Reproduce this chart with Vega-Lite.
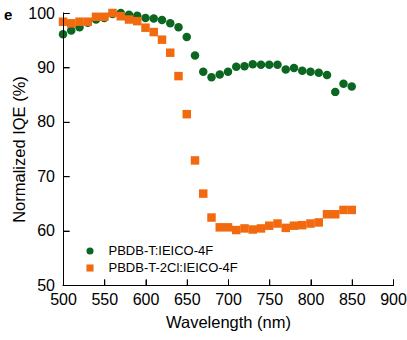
{
  "$schema": "https://vega.github.io/schema/vega-lite/v6.json",
  "autosize": {"type": "fit", "contains": "padding"},
  "padding": {"left": 4, "top": 5, "right": 0, "bottom": 9},
  "width": 407,
  "height": 340,
  "title": {"text": "e", "anchor": "start", "frame": "group", "dx": -59, "offset": -12, "dy": 18, "baseline": "alphabetic", "fontSize": 15, "fontWeight": "bold", "font": "Liberation Sans", "color": "#000"},
  "config": {
    "view": {"stroke": null},
    "font": "Liberation Sans",
    "axis": {
      "grid": false,
      "domain": true,
      "ticks": true,
      "domainColor": "#000",
      "domainOpacity": 1,
      "domainWidth": 1,
      "tickColor": "#000",
      "tickOpacity": 1,
      "tickWidth": 1,
      "labelColor": "#000",
      "titleColor": "#000",
      "labelFontSize": 16,
      "titleFontSize": 16.5,
      "titleFontWeight": "normal",
      "tickSize": -6,
      "labelFlush": false,
      "labelOverlap": false,
      "labelFont": "Liberation Sans",
      "titleFont": "Liberation Sans"
    }
  },
  "datasets": {
    "xt": [{"t": 500}, {"t": 550}, {"t": 600}, {"t": 650}, {"t": 700}, {"t": 750}, {"t": 800}, {"t": 850}, {"t": 900}],
    "yt": [{"t": 50}, {"t": 60}, {"t": 70}, {"t": 80}, {"t": 90}, {"t": 100}],
    "iqe": [
      {"wl": 500, "v": 96.1, "s": "PBDB-T:IEICO-4F"},
      {"wl": 510, "v": 96.8, "s": "PBDB-T:IEICO-4F"},
      {"wl": 520, "v": 97.4, "s": "PBDB-T:IEICO-4F"},
      {"wl": 530, "v": 98.2, "s": "PBDB-T:IEICO-4F"},
      {"wl": 540, "v": 98.8, "s": "PBDB-T:IEICO-4F"},
      {"wl": 550, "v": 99.1, "s": "PBDB-T:IEICO-4F"},
      {"wl": 560, "v": 99.8, "s": "PBDB-T:IEICO-4F"},
      {"wl": 570, "v": 100.0, "s": "PBDB-T:IEICO-4F"},
      {"wl": 580, "v": 99.7, "s": "PBDB-T:IEICO-4F"},
      {"wl": 590, "v": 99.5, "s": "PBDB-T:IEICO-4F"},
      {"wl": 600, "v": 99.1, "s": "PBDB-T:IEICO-4F"},
      {"wl": 610, "v": 99.0, "s": "PBDB-T:IEICO-4F"},
      {"wl": 620, "v": 98.7, "s": "PBDB-T:IEICO-4F"},
      {"wl": 630, "v": 98.1, "s": "PBDB-T:IEICO-4F"},
      {"wl": 640, "v": 97.4, "s": "PBDB-T:IEICO-4F"},
      {"wl": 650, "v": 95.6, "s": "PBDB-T:IEICO-4F"},
      {"wl": 660, "v": 92.2, "s": "PBDB-T:IEICO-4F"},
      {"wl": 670, "v": 89.2, "s": "PBDB-T:IEICO-4F"},
      {"wl": 680, "v": 88.2, "s": "PBDB-T:IEICO-4F"},
      {"wl": 690, "v": 88.7, "s": "PBDB-T:IEICO-4F"},
      {"wl": 700, "v": 89.2, "s": "PBDB-T:IEICO-4F"},
      {"wl": 710, "v": 90.1, "s": "PBDB-T:IEICO-4F"},
      {"wl": 720, "v": 90.2, "s": "PBDB-T:IEICO-4F"},
      {"wl": 730, "v": 90.6, "s": "PBDB-T:IEICO-4F"},
      {"wl": 740, "v": 90.5, "s": "PBDB-T:IEICO-4F"},
      {"wl": 750, "v": 90.5, "s": "PBDB-T:IEICO-4F"},
      {"wl": 760, "v": 90.5, "s": "PBDB-T:IEICO-4F"},
      {"wl": 770, "v": 89.6, "s": "PBDB-T:IEICO-4F"},
      {"wl": 780, "v": 89.9, "s": "PBDB-T:IEICO-4F"},
      {"wl": 790, "v": 89.4, "s": "PBDB-T:IEICO-4F"},
      {"wl": 800, "v": 89.2, "s": "PBDB-T:IEICO-4F"},
      {"wl": 810, "v": 89.0, "s": "PBDB-T:IEICO-4F"},
      {"wl": 820, "v": 88.6, "s": "PBDB-T:IEICO-4F"},
      {"wl": 830, "v": 85.5, "s": "PBDB-T:IEICO-4F"},
      {"wl": 840, "v": 87.0, "s": "PBDB-T:IEICO-4F"},
      {"wl": 850, "v": 86.5, "s": "PBDB-T:IEICO-4F"},
      {"wl": 500, "v": 98.4, "s": "PBDB-T-2Cl:IEICO-4F"},
      {"wl": 510, "v": 98.1, "s": "PBDB-T-2Cl:IEICO-4F"},
      {"wl": 520, "v": 98.4, "s": "PBDB-T-2Cl:IEICO-4F"},
      {"wl": 530, "v": 98.4, "s": "PBDB-T-2Cl:IEICO-4F"},
      {"wl": 540, "v": 99.3, "s": "PBDB-T-2Cl:IEICO-4F"},
      {"wl": 550, "v": 99.3, "s": "PBDB-T-2Cl:IEICO-4F"},
      {"wl": 560, "v": 100.0, "s": "PBDB-T-2Cl:IEICO-4F"},
      {"wl": 570, "v": 99.4, "s": "PBDB-T-2Cl:IEICO-4F"},
      {"wl": 580, "v": 98.8, "s": "PBDB-T-2Cl:IEICO-4F"},
      {"wl": 590, "v": 98.5, "s": "PBDB-T-2Cl:IEICO-4F"},
      {"wl": 600, "v": 97.3, "s": "PBDB-T-2Cl:IEICO-4F"},
      {"wl": 610, "v": 96.5, "s": "PBDB-T-2Cl:IEICO-4F"},
      {"wl": 620, "v": 95.1, "s": "PBDB-T-2Cl:IEICO-4F"},
      {"wl": 630, "v": 92.7, "s": "PBDB-T-2Cl:IEICO-4F"},
      {"wl": 640, "v": 88.4, "s": "PBDB-T-2Cl:IEICO-4F"},
      {"wl": 650, "v": 81.4, "s": "PBDB-T-2Cl:IEICO-4F"},
      {"wl": 660, "v": 72.9, "s": "PBDB-T-2Cl:IEICO-4F"},
      {"wl": 670, "v": 66.8, "s": "PBDB-T-2Cl:IEICO-4F"},
      {"wl": 680, "v": 62.4, "s": "PBDB-T-2Cl:IEICO-4F"},
      {"wl": 690, "v": 60.6, "s": "PBDB-T-2Cl:IEICO-4F"},
      {"wl": 700, "v": 60.6, "s": "PBDB-T-2Cl:IEICO-4F"},
      {"wl": 710, "v": 60.1, "s": "PBDB-T-2Cl:IEICO-4F"},
      {"wl": 720, "v": 60.4, "s": "PBDB-T-2Cl:IEICO-4F"},
      {"wl": 730, "v": 60.2, "s": "PBDB-T-2Cl:IEICO-4F"},
      {"wl": 740, "v": 60.4, "s": "PBDB-T-2Cl:IEICO-4F"},
      {"wl": 750, "v": 60.9, "s": "PBDB-T-2Cl:IEICO-4F"},
      {"wl": 760, "v": 61.3, "s": "PBDB-T-2Cl:IEICO-4F"},
      {"wl": 770, "v": 60.5, "s": "PBDB-T-2Cl:IEICO-4F"},
      {"wl": 780, "v": 60.9, "s": "PBDB-T-2Cl:IEICO-4F"},
      {"wl": 790, "v": 61.0, "s": "PBDB-T-2Cl:IEICO-4F"},
      {"wl": 800, "v": 61.3, "s": "PBDB-T-2Cl:IEICO-4F"},
      {"wl": 810, "v": 61.5, "s": "PBDB-T-2Cl:IEICO-4F"},
      {"wl": 820, "v": 63.0, "s": "PBDB-T-2Cl:IEICO-4F"},
      {"wl": 830, "v": 63.0, "s": "PBDB-T-2Cl:IEICO-4F"},
      {"wl": 840, "v": 63.8, "s": "PBDB-T-2Cl:IEICO-4F"},
      {"wl": 850, "v": 63.8, "s": "PBDB-T-2Cl:IEICO-4F"}
    ]
  },
  "layer": [
    {
      "data": {"name": "iqe"},
      "mark": {"type": "point", "filled": true, "opacity": 1, "strokeWidth": 0, "size": 72},
      "encoding": {
        "x": {"field": "wl", "type": "quantitative", "title": "Wavelength (nm)",
          "scale": {"domain": [500, 900], "nice": false},
          "axis": {"values": [500, 550, 600, 650, 700, 750, 800, 850, 900], "labelPadding": 12.5, "titlePadding": 7}},
        "y": {"field": "v", "type": "quantitative", "title": "Normalized IQE (%)",
          "scale": {"domain": [50, 100], "nice": false, "zero": false},
          "axis": {"values": [50, 60, 70, 80, 90, 100], "labelPadding": 14.5, "titlePadding": 0}},
        "color": {"field": "s", "type": "nominal", "sort": ["PBDB-T:IEICO-4F", "PBDB-T-2Cl:IEICO-4F"],
          "scale": {"domain": ["PBDB-T:IEICO-4F", "PBDB-T-2Cl:IEICO-4F"], "range": ["#0b6621", "#f26a10"]},
          "legend": {"title": null, "orient": "none", "legendX": 20.5, "legendY": 231.5, "padding": 0,
            "symbolSize": 50, "labelFontSize": 13, "labelFont": "Liberation Sans", "rowPadding": 3, "labelOffset": 12,
            "symbolStrokeWidth": 0,
            "encode": {"labels": {"update": {"fill": {"signal": "datum.value === 'PBDB-T:IEICO-4F' ? '#207a30' : '#f5782a'"}}}}}},
        "shape": {"field": "s", "type": "nominal", "sort": ["PBDB-T:IEICO-4F", "PBDB-T-2Cl:IEICO-4F"],
          "scale": {"domain": ["PBDB-T:IEICO-4F", "PBDB-T-2Cl:IEICO-4F"], "range": ["circle", "square"]},
          "legend": null}
      }
    },
    {
      "data": {"values": [{}]},
      "mark": {"type": "tick", "orient": "horizontal", "color": "#000", "opacity": 1, "size": 331, "thickness": 1, "yOffset": 0.5},
      "encoding": {
        "x": {"datum": 700, "type": "quantitative", "title": "Wavelength (nm)"},
        "y": {"datum": 50, "type": "quantitative", "title": "Normalized IQE (%)"}
      }
    },
    {
      "data": {"values": [{}]},
      "mark": {"type": "tick", "orient": "vertical", "color": "#000", "opacity": 1, "size": 273, "thickness": 1, "xOffset": 0.5},
      "encoding": {
        "x": {"datum": 500, "type": "quantitative", "title": "Wavelength (nm)"},
        "y": {"datum": 75, "type": "quantitative", "title": "Normalized IQE (%)"}
      }
    },
    {
      "data": {"name": "xt"},
      "mark": {"type": "tick", "orient": "vertical", "color": "#000", "opacity": 1, "size": 6, "thickness": 1, "xOffset": 0.5, "yOffset": -2.5},
      "encoding": {
        "x": {"field": "t", "type": "quantitative", "title": "Wavelength (nm)"},
        "y": {"datum": 50, "type": "quantitative", "title": "Normalized IQE (%)"}
      }
    },
    {
      "data": {"name": "yt"},
      "mark": {"type": "tick", "orient": "horizontal", "color": "#000", "opacity": 1, "size": 6, "thickness": 1, "xOffset": 3.5, "yOffset": 0.5},
      "encoding": {
        "x": {"datum": 500, "type": "quantitative", "title": "Wavelength (nm)"},
        "y": {"field": "t", "type": "quantitative", "title": "Normalized IQE (%)"}
      }
    }
  ]
}
